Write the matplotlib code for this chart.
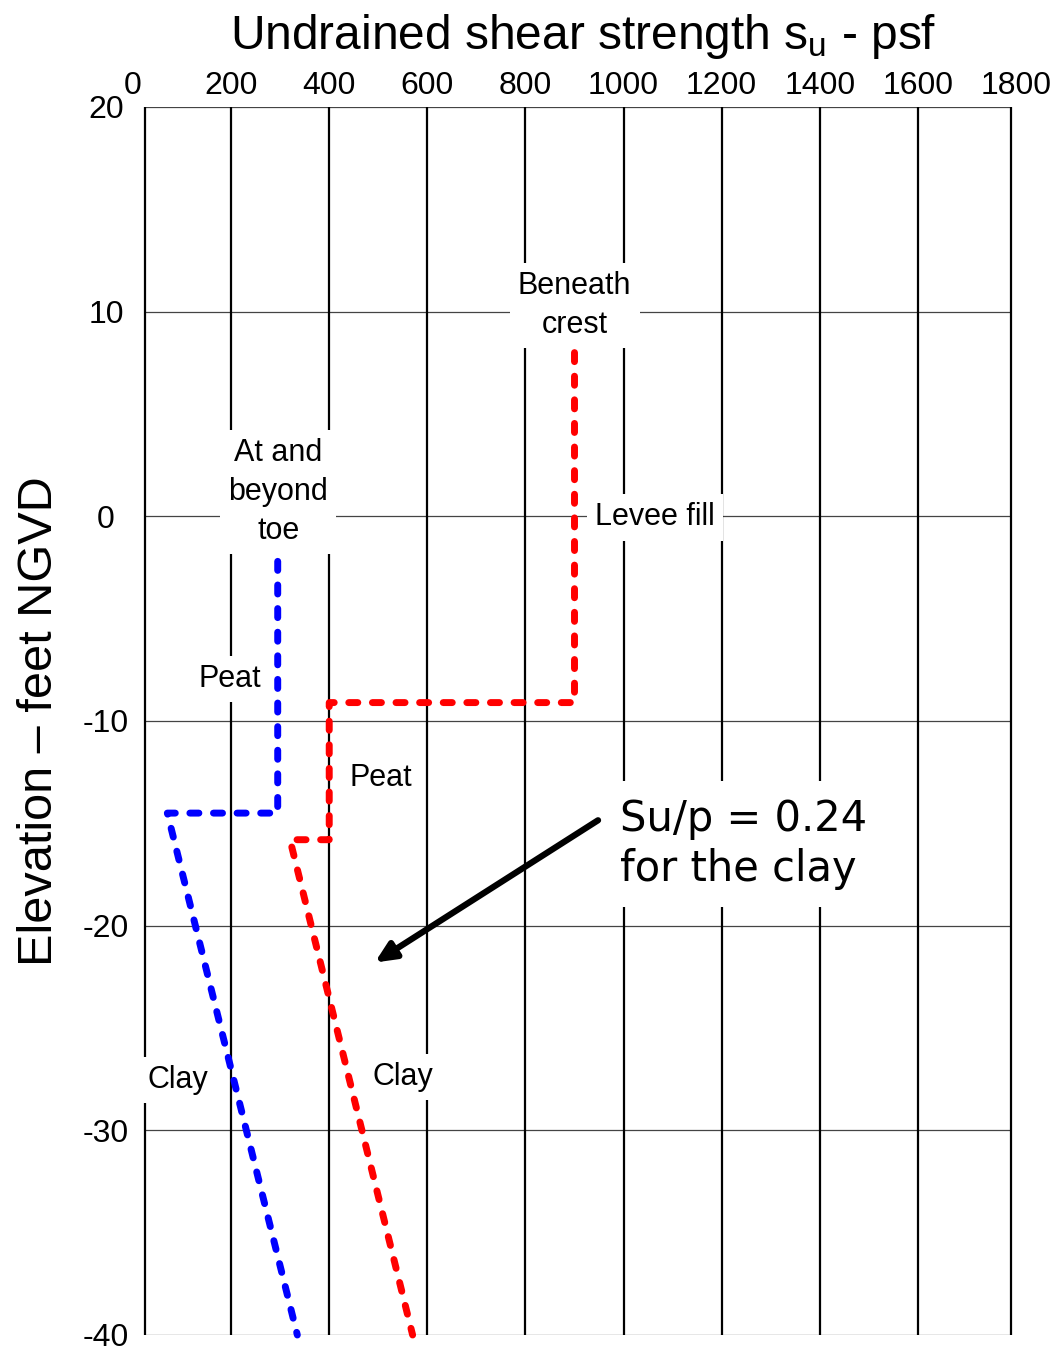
import matplotlib
matplotlib.use("Agg")
import matplotlib.pyplot as plt
import numpy as np

plt.rcParams['font.family'] = ['Liberation Sans', 'DejaVu Sans']

# ---- data ----
x_ticks = [0, 200, 400, 600, 800, 1000, 1200, 1400, 1600, 1800]
y_ticks = [20, 10, 0, -10, -20, -30, -40]

# "At and beyond toe" profile (psf, elevation ft)
toe_su = [295, 295, 70, 335]
toe_el = [-2.2, -14.5, -14.5, -40]

# "Beneath crest" profile
crest_su = [900, 900, 400, 400, 320, 570]
crest_el = [8.0, -9.1, -9.1, -15.8, -15.8, -40]

labels = [
    ("Beneath\ncrest", 900, 10.3),
    ("At and\nbeyond\ntoe", 296, 1.2),
    ("Levee fill", 1064, -0.05),
    ("Peat", 198, -7.96),
    ("Peat", 505, -12.8),
    ("Clay", 92, -27.55),
    ("Clay", 550, -27.4),
]

# ---- figure ----
W, H = 1051, 1348
fig = plt.figure(figsize=(W / 100, H / 100), dpi=100)
left_px, right_px, top_px, bot_px = 133, 1016, 107, 1335
ax = fig.add_axes([left_px / W, (H - bot_px) / H, (right_px - left_px) / W, (bot_px - top_px) / H])
ax.set_xlim(0, 1800)
ax.set_ylim(-40, 20)
for s in ax.spines.values():
    s.set_visible(False)

x_lo, x_hi = 25, 1790
# horizontal grid lines
ax.hlines(y_ticks, x_lo, x_hi, colors='#444444', linewidth=0.9, zorder=1)
# vertical grid + frame
ax.vlines([x_lo] + x_ticks[1:-1] + [x_hi], -40, 20, colors='black', linewidth=1.6, zorder=1)

ax.xaxis.set_ticks_position('top')
ax.set_xticks(x_ticks)
ax.set_xticklabels([str(v) for v in x_ticks], fontsize=23)
ax.set_yticks(y_ticks)
ax.set_yticklabels([str(v) for v in y_ticks], fontsize=23, ha='center')
ax.tick_params(axis='both', length=0)
ax.tick_params(axis='x', pad=4)
ax.tick_params(axis='y', pad=19.5)

ax.set_title("Undrained shear strength s$_\\mathregular{u}$ - psf", fontsize=34.5, pad=42, x=0.5096)
ax.set_ylabel("Elevation \u2013 feet NGVD", fontsize=35, labelpad=15)

lw = 5
ax.plot(toe_su, toe_el, color=(0, 0, 1), linewidth=lw, dashes=(1.3, 2.1),
        dash_capstyle='round', solid_capstyle='round', zorder=4, clip_on=False)
ax.plot(crest_su, crest_el, color=(1, 0, 0), linewidth=lw, dashes=(1.3, 2.1),
        dash_capstyle='round', solid_capstyle='round', zorder=4, clip_on=False)

for txt, xv, yv in labels:
    ax.text(xv, yv, txt, ha='center', va='center', fontsize=22, linespacing=1.38,
            bbox=dict(facecolor='white', edgecolor='none', pad=6), zorder=3)

ax.text(993, -16.0, "Su/p = 0.24\nfor the clay", ha='left', va='center',
        fontsize=30, family=['DejaVu Sans'], linespacing=1.25,
        bbox=dict(facecolor='white', edgecolor='none', pad=12), zorder=3)

ax.annotate("", xy=(493, -21.8), xytext=(948, -14.85),
            arrowprops=dict(arrowstyle='-|>,head_length=1.2,head_width=0.55',
                            color='black', linewidth=4.5, shrinkA=0, shrinkB=0),
            zorder=5)

fig.savefig("out.png", dpi=100)
